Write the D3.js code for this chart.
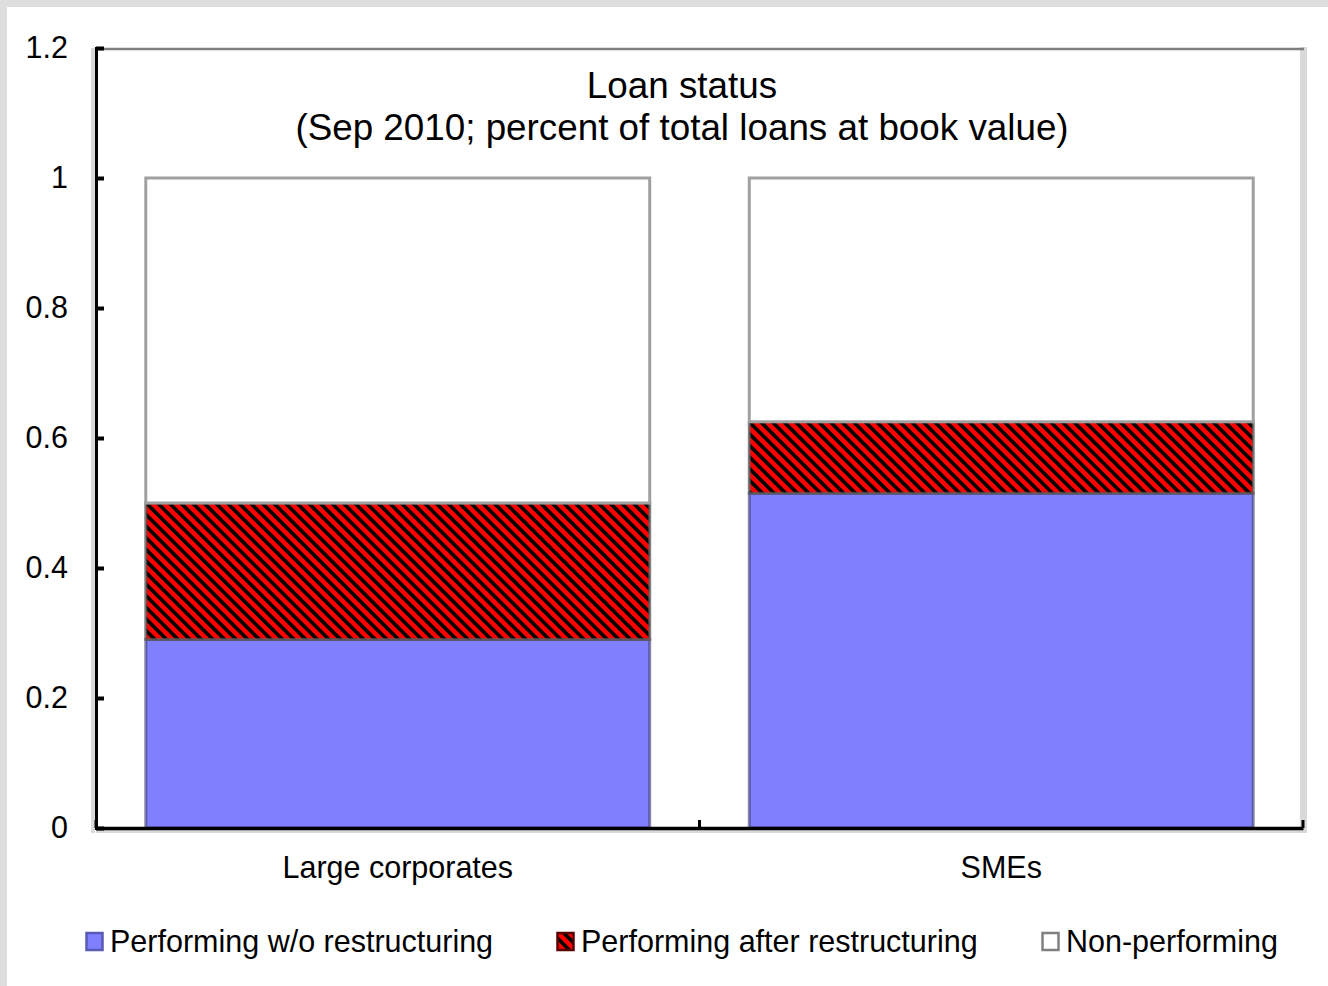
<!DOCTYPE html>
<html lang="en">
<head>
    <meta charset="UTF-8">
    <title>Loan status</title>
    <script src="https://d3js.org/d3.v7.min.js"></script>
    <style>
        body { margin: 0; background: #ffffff; }
        svg text { font-family: "Liberation Sans", Arial, sans-serif; fill: #000; }
    </style>
</head>
<body>
<svg id="chart" width="1328" height="986"></svg>
<script>
    // chart data
    const categories = ["Large corporates", "SMEs"];
    const seriesNames = ["Performing w/o restructuring", "Performing after restructuring", "Non-performing"];
    const performing = [0.29, 0.515];
    const restructured = [0.21, 0.11];
    const nonPerforming = [0.50, 0.375];
    const yTicks = [0, 0.2, 0.4, 0.6, 0.8, 1, 1.2];
    const titleLines = ["Loan status", "(Sep 2010; percent of total loans at book value)"];

    const width = 1328, height = 986;
    const plotLeft = 96, plotRight = 1303, plotTop = 48, plotBottom = 828;

    const svg = d3.select("#chart");

    // grey frame of the screenshot
    svg.append("rect").attr("x", 0).attr("y", 0).attr("width", width).attr("height", 7).attr("fill", "#dedede");
    svg.append("rect").attr("x", 0).attr("y", 0).attr("width", 7).attr("height", height).attr("fill", "#dedede");

    // hatch pattern (red with black diagonals)
    const defs = svg.append("defs");
    const pat = defs.append("pattern")
        .attr("id", "hatch")
        .attr("patternUnits", "userSpaceOnUse")
        .attr("width", 8.2).attr("height", 8.2)
        .attr("patternTransform", "rotate(-45)");
    pat.append("rect").attr("width", 8.2).attr("height", 8.2).attr("fill", "#ff0000");
    pat.append("rect").attr("width", 3.6).attr("height", 8.2).attr("fill", "#000000");

    const x = d3.scaleBand()
        .domain(categories)
        .range([plotLeft, plotRight])
        .paddingInner(0.165)
        .paddingOuter(0.0825);

    const y = d3.scaleLinear().domain([0, 1.2]).range([plotBottom, plotTop]);

    // plot area frame
    svg.append("rect").attr("x", 91).attr("y", plotTop).attr("width", 4).attr("height", plotBottom - plotTop + 5).attr("fill", "#d9d9d9");
    svg.append("rect").attr("x", plotRight - 3).attr("y", plotTop - 1).attr("width", 7).attr("height", plotBottom - plotTop + 6).attr("fill", "#d9d9d9");
    svg.append("rect").attr("x", plotLeft).attr("y", plotBottom + 2).attr("width", plotRight - plotLeft + 4).attr("height", 3).attr("fill", "#d9d9d9");
    svg.append("line").attr("x1", plotLeft).attr("x2", plotRight + 1).attr("y1", plotTop + 1).attr("y2", plotTop + 1)
        .attr("stroke", "#7f7f7f").attr("stroke-width", 2.5);

    // stacked bars
    const stack = categories.map((c, i) => {
        const a = performing[i], b = restructured[i], n = nonPerforming[i];
        return [
            { cat: c, y0: 0, y1: a, fill: "#8080ff", edge: "rgba(60,60,110,0.6)" },
            { cat: c, y0: a, y1: a + b, fill: "url(#hatch)", edge: "rgba(90,90,90,0.75)" },
            { cat: c, y0: a + b, y1: a + b + n, fill: "#ffffff", edge: "#a0a0a0" }
        ];
    }).flat();

    svg.append("g").selectAll("rect")
        .data(stack)
        .enter()
        .append("rect")
        .attr("x", d => x(d.cat))
        .attr("y", d => y(d.y1))
        .attr("width", x.bandwidth())
        .attr("height", d => y(d.y0) - y(d.y1))
        .attr("fill", d => d.fill)
        .attr("stroke", d => d.edge)
        .attr("stroke-width", 3);

    // y axis
    const yAxis = d3.axisLeft(y)
        .tickValues(yTicks)
        .tickSize(-8)
        .tickPadding(28)
        .tickFormat(d => d3.format("")(+d.toFixed(1)));
    const gy = svg.append("g").attr("transform", `translate(${plotLeft},0)`).call(yAxis);
    gy.select(".domain").attr("stroke", "#000").attr("stroke-width", 3);
    gy.selectAll(".tick line").attr("stroke", "#000").attr("stroke-width", 4);
    gy.selectAll(".tick text").attr("font-size", 30.5).attr("fill", "#000")
        .style("font-family", "'Liberation Sans', Arial, sans-serif");

    // x axis
    const xAxis = d3.axisBottom(x).tickSize(0).tickPadding(28);
    const gx = svg.append("g").attr("transform", `translate(0,${plotBottom})`).call(xAxis);
    gx.select(".domain").attr("stroke", "#000").attr("stroke-width", 3.5);
    gx.selectAll(".tick text").attr("font-size", 30.5).attr("fill", "#000")
        .style("font-family", "'Liberation Sans', Arial, sans-serif");

    // x tick marks at category boundaries
    const bounds = [plotLeft, (x(categories[0]) + x.bandwidth() + x(categories[1])) / 2, plotRight];
    svg.append("g").selectAll("line")
        .data(bounds)
        .enter()
        .append("line")
        .attr("x1", d => d).attr("x2", d => d)
        .attr("y1", plotBottom - 8).attr("y2", plotBottom)
        .attr("stroke", "#000").attr("stroke-width", 3);

    // title
    svg.append("g").selectAll("text")
        .data(titleLines)
        .enter()
        .append("text")
        .attr("x", 682)
        .attr("y", (d, i) => 98 + i * 42)
        .attr("text-anchor", "middle")
        .attr("font-size", 36.8)
        .text(d => d);

    // legend
    const legendX = [85, 556, 1041];
    const legendFill = ["#8080ff", "url(#hatch)", "#ffffff"];
    const legendEdge = ["#5a5ab4", "#5a0000", "#808080"];
    const leg = svg.append("g").selectAll("g")
        .data(seriesNames)
        .enter()
        .append("g")
        .attr("transform", (d, i) => `translate(${legendX[i]},0)`);
    leg.append("rect")
        .attr("x", 1.5).attr("y", 933)
        .attr("width", 16).attr("height", 17)
        .attr("fill", (d, i) => legendFill[i])
        .attr("stroke", (d, i) => legendEdge[i])
        .attr("stroke-width", 2.5);
    leg.append("text")
        .attr("x", 25)
        .attr("y", 952)
        .attr("font-size", 30.5)
        .text(d => d);
</script>
</body>
</html>
